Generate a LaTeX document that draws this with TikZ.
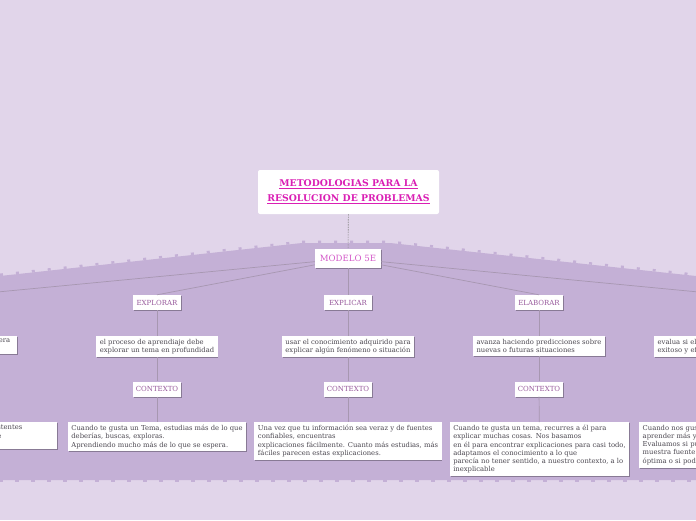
\documentclass[tikz,border=0pt]{standalone}
\usepackage{fontspec}
\setmainfont{DejaVu Serif}
\usetikzlibrary{shadows}
\definecolor{Backdrop}{HTML}{E1D5EA}
\definecolor{Hill}{HTML}{C4B0D6}
\definecolor{Wire}{HTML}{A797B1}
\definecolor{Magenta}{HTML}{DA1FB4}
\definecolor{Orchid}{HTML}{D45AC9}
\definecolor{Plum}{HTML}{985A9C}
\definecolor{Ink}{HTML}{4B4750}

\tikzset{
  card/.style={fill=white,drop shadow={shadow xshift=0.8pt,shadow yshift=-1pt,fill=black,opacity=0.3}},
  headline/.style={fill=white,rounded corners=2pt,minimum width=181pt,minimum height=44pt,align=center,
    text=Magenta,font=\fontsize{9.3}{15}\selectfont\bfseries},
  hub/.style={card,minimum width=66pt,minimum height=19pt,inner sep=1pt,text=Orchid,font=\fontsize{8.6}{9}\selectfont},
  tag/.style={card,minimum width=48pt,minimum height=15pt,inner sep=1pt,text=Plum,font=\fontsize{7}{7}\selectfont},
  note/.style={card,anchor=north,align=left,inner xsep=3.5pt,inner ysep=3pt,text=Ink,font=\fontsize{6.8}{8.2}\selectfont},
  wire/.style={Wire,line width=0.7pt},
}

\begin{document}
\begin{tikzpicture}[x=1pt,y=-1pt]
\useasboundingbox (0,0) rectangle (696,520);
\clip (0,0) rectangle (696,520);
\fill[Backdrop] (0,0) rectangle (696,520);
% lavender band
\fill[Hill] (0,276) -- (302,243) -- (390,243) -- (696,276) -- (696,480) -- (0,480) -- cycle;
\draw[Hill,line width=2.5pt,dash pattern=on 3pt off 13pt] (0,274.8) -- (302,241.8) -- (390,241.8) -- (696,274.8);
\draw[Hill,line width=2pt,dash pattern=on 4pt off 12pt,dash phase=-15pt] (0,481) -- (696,481);

\node[headline] (title) at (348.5,192) {\underline{METODOLOGIAS PARA LA}\\\underline{RESOLUCION DE PROBLEMAS}};
\node[hub] (modelo) at (348,258.5) {MODELO 5E};
\coordinate (enganchar) at (-34,295);
\coordinate (evaluar) at (730,295);

\foreach \x/\n/\t in {157/explorar/EXPLORAR,348/explicar/EXPLICAR,539/elaborar/ELABORAR} {
  \node[tag] (\n) at (\x,302.5) {\t};
  \node[tag] (ctx-\n) at (\x,389) {CONTEXTO};
}

\node[note] (d-explorar) at (157,336) {el proceso de aprendiaje debe\\explorar un tema en profundidad};
\node[note] (d-explicar) at (348,336) {usar el conocimiento adquirido para\\explicar algún fenómeno o situación};
\node[note] (d-elaborar) at (539,336) {avanza haciendo predicciones sobre\\nuevas o futuras situaciones};
\node[note,anchor=north east,text width=95pt,align=right] (d-enganchar) at (17,336) {era\kern3pt\\\mbox{}};
\node[note,anchor=north west,text width=150pt] (d-evaluar) at (654,336) {evalua si el\\exitoso y ef};

\node[note] (c-explorar) at (157,422) {Cuando te gusta un Tema, estudias más de lo que\\deberías, buscas, exploras.\\Aprendiendo mucho más de lo que se espera.};
\node[note] (c-explicar) at (348,422) {Una vez que tu información sea veraz y de fuentes\\confiables, encuentras\\explicaciones fácilmente. Cuanto más estudias, más\\fáciles parecen estas explicaciones.};
\node[note] (c-elaborar) at (539.5,422) {Cuando te gusta un tema, recurres a él para\\explicar muchas cosas. Nos basamos\\en él para encontrar explicaciones para casi todo,\\adaptamos el conocimiento a lo que\\parecía no tener sentido, a nuestro contexto, a lo\\inexplicable};
\node[note,anchor=north east,text width=175pt,align=right] (c-enganchar) at (57,422) {stentes\kern31pt\\e\kern52pt\\\mbox{}};
\node[note,anchor=north west,text width=180pt] (c-evaluar) at (639,422) {Cuando nos gus\\aprender más y\\Evaluamos si pu\\muestra fuente e\\óptima o si pod};

% links
\draw[black!45,line width=0.6pt,dash pattern=on 1.5pt off 1pt] (title) -- (modelo);
\draw[wire] (modelo) -- (enganchar);
\draw[wire] (modelo) -- (evaluar);
\foreach \n in {explorar,explicar,elaborar} {
  \draw[wire] (modelo) -- (\n.north);
  \draw[wire] (\n) -- (d-\n);
  \draw[wire] (d-\n) -- (ctx-\n);
  \draw[wire] (ctx-\n) -- (c-\n);
}
\end{tikzpicture}
\end{document}
